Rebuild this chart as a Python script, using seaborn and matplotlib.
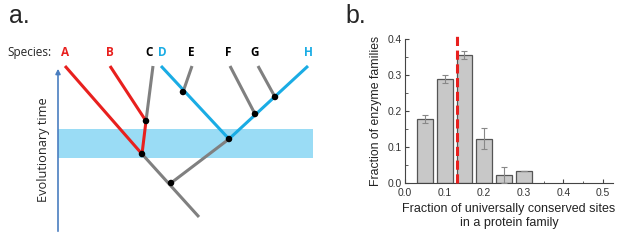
import matplotlib
matplotlib.use("Agg")
import matplotlib.pyplot as plt
import seaborn as sns
import pandas as pd

sns.set_theme(style="white")
plt.rcParams['font.family'] = ['Liberation Sans', 'DejaVu Sans']

# ---- Panel b data ----
bin_centers = [0.05, 0.10, 0.15, 0.20, 0.25, 0.30]
fractions = [0.178, 0.289, 0.356, 0.123, 0.022, 0.033]
errors = [0.010, 0.010, 0.011, 0.029, 0.022, 0.0]
threshold = 0.132

# ---- Panel a data (diagram, pixel coordinates) ----
species = ['A', 'B', 'C', 'D', 'E', 'F', 'G', 'H']
species_x = [65, 110, 149, 162, 191, 228, 255, 308]
species_colors = ['#E8201E', '#E8201E', 'black', '#1AACE4', 'black', 'black', 'black', '#1AACE4']
red_branches = [[(65, 66), (142, 154)], [(110, 66), (146, 121), (142, 154)]]
blue_branches = [[(161, 66), (229, 139)], [(308, 66), (229, 139)]]
gray_branches = [[(153, 66), (146, 121)], [(192, 66), (183, 92)], [(230, 66), (255, 114)],
                 [(258, 66), (275, 97)], [(142, 154), (199, 217)], [(229, 139), (171, 183)]]
node_x = [146, 142, 183, 229, 255, 275, 171]
node_y = [121, 154, 92, 139, 114, 97, 183]

fig = plt.figure(figsize=(6.17, 2.45), dpi=100)

# ---------- Panel a ----------
axa = fig.add_axes([0, 0, 320 / 617, 1])
axa.set_xlim(0, 320)
axa.set_ylim(245, 0)
axa.axis('off')
axa.fill_between([58, 313], 129, 158, color='#9ADCF5', lw=0, zorder=1)
for br in gray_branches:
    xs, ys = zip(*br)
    axa.plot(xs, ys, color='#808080', lw=2.2, solid_capstyle='butt', zorder=2)
for br in red_branches:
    xs, ys = zip(*br)
    axa.plot(xs, ys, color='#E8201E', lw=2.2, solid_capstyle='butt', zorder=3)
for br in blue_branches:
    xs, ys = zip(*br)
    axa.plot(xs, ys, color='#1AACE4', lw=2.2, solid_capstyle='butt', zorder=3)
sns.scatterplot(x=node_x, y=node_y, ax=axa, color='black', s=22, edgecolor='none', zorder=5)
axa.annotate('', xy=(58, 66), xytext=(58, 234),
             arrowprops=dict(arrowstyle='-|>', color='#4A7EC0', lw=1.2, mutation_scale=7))
axa.text(43, 150, 'Evolutionary time', rotation=90, ha='center', va='center',
         fontsize=9.2, family=['Open Sans', 'DejaVu Sans'])
axa.text(7, 52, 'Species:', ha='left', va='center', fontsize=8.5,
         family=['Open Sans', 'DejaVu Sans'])
for s, x, c in zip(species, species_x, species_colors):
    axa.text(x, 52, s, ha='center', va='center', fontsize=8.5, color=c,
             fontweight='bold', family=['Open Sans', 'DejaVu Sans'])
axa.text(9, 16, 'a.', ha='left', va='center', fontsize=18)

# ---------- Panel b ----------
axb = fig.add_axes([405 / 617, 1 - 183 / 245, 208 / 617, (183 - 39) / 245])
df = pd.DataFrame({'x': bin_centers, 'y': fractions})
axb.bar(df['x'], df['y'], width=0.04, color='#C8C8C8', edgecolor='#555555', lw=0.9, zorder=2)
axb.errorbar(bin_centers, fractions, yerr=errors, fmt='none', ecolor='#888888',
             elinewidth=0.8, capsize=2, capthick=0.8, zorder=3)
axb.plot([threshold, threshold], [0, 0.415], color='#E8201E', lw=2.2, ls=(0, (3, 1.5)),
         clip_on=False, zorder=4)
axb.set_xlim(0, 0.525)
axb.set_ylim(0, 0.4)
axb.set_xticks([0.0, 0.1, 0.2, 0.3, 0.4, 0.5])
axb.set_yticks([0.0, 0.1, 0.2, 0.3, 0.4])
axb.set_xticks([0.05, 0.15, 0.25, 0.35, 0.45], minor=True)
axb.set_yticks([0.05, 0.15, 0.25, 0.35], minor=True)
axb.set_xticklabels(['0.0', '0.1', '0.2', '0.3', '0.4', '0.5'])
axb.set_yticklabels(['0.0', '0.1', '0.2', '0.3', '0.4'])
axb.tick_params(axis='both', which='major', direction='in', length=3, width=0.8,
                color='#444444', labelsize=7.4, labelcolor='#333333', pad=2)
axb.tick_params(axis='x', which='major', pad=3.5)
axb.tick_params(axis='both', which='minor', direction='in', length=1.8, width=0.6,
                color='#444444')
axb.tick_params(axis='x', bottom=True, which='both')
axb.tick_params(axis='y', left=True, which='both')
for side in ['top', 'right']:
    axb.spines[side].set_visible(False)
for side in ['left', 'bottom']:
    axb.spines[side].set_color('#444444')
    axb.spines[side].set_linewidth(0.8)
axb.set_xlabel('Fraction of universally conserved sites\nin a protein family', fontsize=9,
               color='#222222', labelpad=4, linespacing=1.2)
axb.set_ylabel('Fraction of enzyme families', fontsize=8.8, color='#222222', labelpad=4)
fig.text(345 / 617, 1 - 16 / 245, 'b.', ha='left', va='center', fontsize=18)

fig.savefig('out.png', dpi=100)
